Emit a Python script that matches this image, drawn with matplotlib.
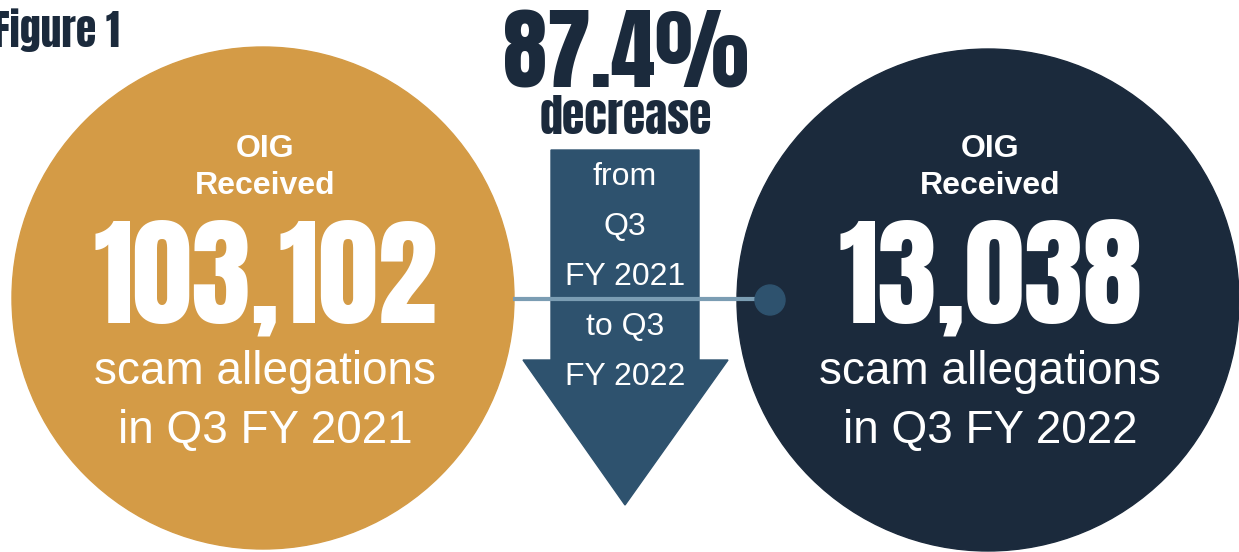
import matplotlib
matplotlib.use("Agg")
import matplotlib.pyplot as plt
from matplotlib.patches import Circle, Polygon

# data
periods = ["Q3 FY 2021", "Q3 FY 2022"]
allegations = [103102, 13038]
pct_decrease = round((allegations[0] - allegations[1]) / allegations[0] * 100, 1)

GOLD, NAVY, STEEL, LINE = "#d49b46", "#1b2a3c", "#2e526e", "#7b9db3"
HEAVY = ["Anton", "DejaVu Sans"]
SANS = ["Liberation Sans", "DejaVu Sans"]

fig = plt.figure(figsize=(12.39, 5.52), dpi=100, facecolor="white")
ax = fig.add_axes([0, 0, 1, 1])
ax.set_xlim(0, 1239); ax.set_ylim(552, 0); ax.axis("off")

# circles
centers = [(263, 298), (988, 300)]
for (cx, cy), c in zip(centers, [GOLD, NAVY]):
    ax.add_patch(Circle((cx, cy), 251, color=c, zorder=1))

# connector
ax.plot([513, 770], [299, 299], color=LINE, lw=3, zorder=3, solid_capstyle="butt")
ax.add_patch(Circle((770, 300), 15, color=STEEL, zorder=4))

# arrow
ax.add_patch(Polygon([(551, 150), (699, 150), (699, 360), (728, 360), (625, 505),
                      (523, 360), (551, 360)], closed=True, color=STEEL, zorder=2))

for (cx, _), n, p in zip(centers, allegations, periods):
    tx = cx + 2
    ax.text(tx, 157, "OIG", ha="center", va="baseline", color="white", fontsize=23,
            fontweight="bold", family=SANS, zorder=5)
    ax.text(tx, 194, "Received", ha="center", va="baseline", color="white", fontsize=23,
            fontweight="bold", family=SANS, zorder=5)
    ax.text(tx, 322, f"{n:,}", ha="center", va="baseline", color="white", fontsize=86,
            family=HEAVY, zorder=5)
    ax.text(tx, 384, "scam allegations", ha="center", va="baseline", color="white",
            fontsize=33, family=SANS, zorder=5)
    ax.text(tx, 443, f"in {p}", ha="center", va="baseline", color="white",
            fontsize=33, family=SANS, zorder=5)

# arrow text
for i, s in enumerate(["from", "Q3", "FY 2021", "to Q3", "FY 2022"]):
    ax.text(625, 185 + 50 * i, s, ha="center", va="baseline", color="white", fontsize=23,
            family=SANS, zorder=5)

ax.text(626, 87, f"{pct_decrease}%", ha="center", va="baseline", color=NAVY, fontsize=64,
        family=HEAVY)
ax.text(626, 134, "decrease", ha="center", va="baseline", color=NAVY, fontsize=33,
        family=HEAVY)
ax.text(120, 47, "Figure 1", ha="right", va="baseline", color=NAVY, fontsize=30,
        family=HEAVY)

fig.savefig("out.png", dpi=100, facecolor="white")
